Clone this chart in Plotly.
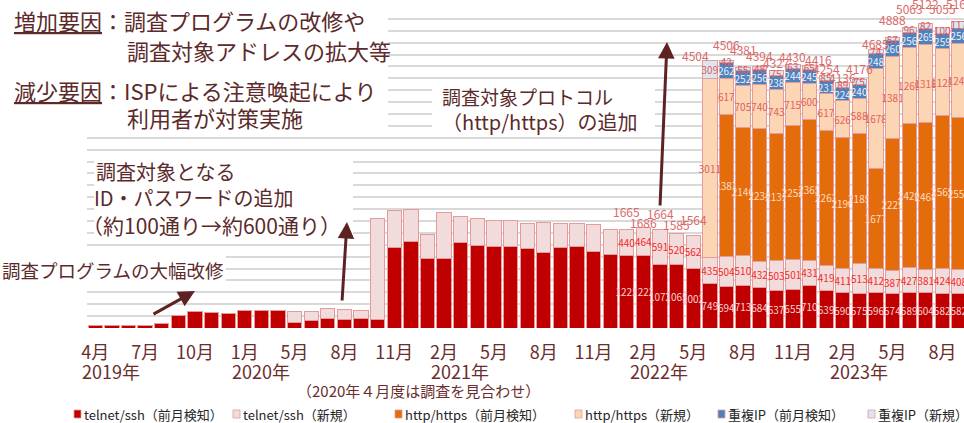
import plotly.graph_objects as go

# ---------------- data ----------------
months = [
    "2019-04", "2019-05", "2019-06", "2019-07", "2019-08", "2019-09", "2019-10", "2019-11", "2019-12",
    "2020-01", "2020-02", "2020-03", "2020-05", "2020-06", "2020-07", "2020-08", "2020-09", "2020-10",
    "2020-11", "2020-12",
    "2021-01", "2021-02", "2021-03", "2021-04", "2021-05", "2021-06", "2021-07", "2021-08", "2021-09",
    "2021-10", "2021-11", "2021-12",
    "2022-01", "2022-02", "2022-03", "2022-04", "2022-05", "2022-06", "2022-07", "2022-08", "2022-09",
    "2022-10", "2022-11", "2022-12",
    "2023-01", "2023-02", "2023-03", "2023-04", "2023-05", "2023-06", "2023-07", "2023-08", "2023-09",
]

telnet_prev = [40, 50, 50, 50, 75, 210, 272, 255, 248, 293, 293, 293,
               91, 119, 152, 135, 152, 140, 1360, 1450,
               1170, 1165, 1430, 1390, 1365, 1368, 1338, 1262, 1350, 1378, 1292, 1238,
               1225, 1222, 1073, 1065, 1002, 749, 694, 713, 684, 637, 655, 710,
               639, 590, 575, 596, 574, 589, 604, 582, 582]
telnet_new = [0, 0, 0, 0, 0, 0, 0, 0, 0, 0, 0, 0,
              186, 158, 182, 170, 148, 1700, 622, 545,
              398, 775, 440, 458, 438, 447, 422, 520, 416, 375, 441, 420,
              440, 464, 591, 520, 562, 435, 504, 510, 432, 503, 501, 431,
              419, 411, 513, 412, 387, 427, 381, 424, 408]
http_prev = [0] * 38 + [2387, 2146, 2234, 2131, 2252, 2365, 2263, 2196, 2185, 1677,
                        2229, 2426, 2468, 2565, 2555]
http_new = [0] * 37 + [3011, 617, 705, 740, 743, 715, 600, 617, 626, 588, 1678,
                       1381, 1269, 1318, 1125, 1245]
ip_prev = [0] * 38 + [262, 252, 256, 238, 244, 245, 231, 224, 240, 248, 260, 256, 269, 259, 256]
ip_new = [0] * 37 + [309, 42, 55, 48, 75, 63, 65, 85, 89, 75, 74, 57, 96, 82, 100, 117]

series_names = ["telnet/ssh（前月検知）", "telnet/ssh（新規）", "http/https（前月検知）",
                "http/https（新規）", "重複IP（前月検知）", "重複IP（新規）"]
series_values = [telnet_prev, telnet_new, http_prev, http_new, ip_prev, ip_new]

tick_months = months[::3]
tick_labels = ["4月", "7月", "10月", "1月", "5月", "8月", "11月", "2月", "5月", "8月",
               "11月", "2月", "5月", "8月", "11月", "2月", "5月", "8月"]
year_months = ["2019-04", "2020-01", "2021-02", "2022-02", "2023-02"]
year_labels = ["2019年", "2020年", "2021年", "2022年", "2023年"]

label_start = months.index("2022-01")   # values are printed from this month on

# ---------------- style ----------------
FONT = "Noto Sans CJK JP"
bar_colors = ["#C00000", "#F2DCDB", "#E46C0A", "#FCD5B5", "#4F81BD", "#DCE6F2"]
seg_text_colors = ["#F6D3D3", "#F52A2A", "#FDDCC2", "#E0625C", "#EAF1FA", "#DE5A5A"]
border_color = "#E39B9B"
text_color = "#5C2A2A"
axis_text_color = "#6B2D2D"
total_color = "#D96A6A"

# per-label vertical lift (px) and horizontal nudge of the totals (from label_start on)
total_dy = [18, 5, 16, 9, 16, 5, 16, 18, 11, 8, 8, 6, 7, 5, 11, 6, 18, 19, 20, 19, 18]
total_dx = [0, 0, 0, 0, 0, -14, 0, 0, 0, 0, 0, 9, 0, 0, 0, 0, 0, 0, 0, 0, 0]

PL, PR, PT, PB = 87, 964, 7, 328


def xp(px):
    return (px - PL) / (PR - PL)


def yp(py):
    return (PB - py) / (PB - PT)


fig = go.Figure()
for name, vals, col, tcol in zip(series_names, series_values, bar_colors, seg_text_colors):
    texts = [str(v) if (i >= label_start and v > 0) else "" for i, v in enumerate(vals)]
    fig.add_trace(go.Bar(
        x=months, y=vals, name=name,
        marker=dict(color=col, line=dict(color=border_color, width=1)),
        text=texts, textposition="inside", insidetextanchor="middle",
        textangle=0, constraintext="none",
        textfont=dict(family=FONT, size=10, color=tcol),
        hoverinfo="x+y+name",
    ))

totals = [sum(v) for v in zip(*series_values)]

annotations = []
for k, i in enumerate(range(label_start, len(months))):
    annotations.append(dict(
        x=months[i], y=totals[i], xref="x", yref="y", text=str(totals[i]),
        showarrow=False, yanchor="middle", xanchor="center",
        yshift=total_dy[k], xshift=total_dx[k],
        font=dict(family=FONT, size=12, color=total_color)))

# year labels under the month ticks
for m, lab in zip(year_months, year_labels):
    annotations.append(dict(
        x=m, y=yp(371), xref="x", yref="paper", text=lab, showarrow=False,
        xanchor="left", yanchor="middle", xshift=-15,
        font=dict(family=FONT, size=18, color=axis_text_color)))

annotations.append(dict(
    x=xp(418), y=yp(390), xref="paper", yref="paper",
    text="（2020年４月度は調査を見合わせ）", showarrow=False,
    xanchor="center", yanchor="middle",
    font=dict(family=FONT, size=15, color=axis_text_color)))

# explanatory texts
text_items = [
    ("<u>増加要因</u>：調査プログラムの改修や", 12, 20, 22, "left"),
    ("調査対象アドレスの拡大等", 125, 50, 22, "left"),
    ("<u>減少要因</u>：ISPによる注意喚起により", 12, 90, 22, "left"),
    ("利用者が対策実施", 125, 117, 22, "left"),
    ("調査対象となる", 94, 171, 20, "left"),
    ("ID・パスワードの追加", 92, 198, 20, "left"),
    ("（約100通り→約600通り）", 80, 225, 21, "left"),
    ("調査プログラムの大幅改修", 0, 270, 18.5, "left"),
    ("調査対象プロトコル", 440, 96, 19, "left"),
    ("（http/https）の追加", 440, 121, 20, "left"),
]
for txt, x0, yc, fs, anchor in text_items:
    annotations.append(dict(
        x=xp(x0), y=yp(yc), xref="paper", yref="paper", text=txt, showarrow=False,
        xanchor=anchor, yanchor="middle", align=anchor,
        font=dict(family=FONT, size=fs, color=text_color)))

# arrows: (tail_x, tail_y, tip_x, tip_y)
arrows = [(152, 315, 195, 291), (342, 302, 347, 222), (660, 207, 667, 42)]
for tx, ty, hx, hy in arrows:
    annotations.append(dict(
        x=xp(hx), y=yp(hy), xref="paper", yref="paper", text="",
        showarrow=True, ax=tx - hx, ay=ty - hy, axref="pixel", ayref="pixel",
        arrowhead=2, arrowsize=1.1, arrowwidth=3, arrowcolor="#5E2222", standoff=0))

# white panels behind the texts (hide gridlines)
shapes = []
for x0, y0, x1, y1 in [(0, 0, 388, 137), (94, 152, 353, 242), (0, 256, 226, 285), (432, 80, 655, 135)]:
    shapes.append(dict(type="rect", xref="paper", yref="paper",
                       x0=xp(x0), x1=xp(x1), y0=yp(y1), y1=yp(y0),
                       fillcolor="white", line=dict(width=0), layer="above"))

# custom legend
legend_x = [74, 233, 395, 575, 718, 868]
legend_y = 414
for name, col, lx in zip(series_names, bar_colors, legend_x):
    shapes.append(dict(type="rect", xref="paper", yref="paper",
                       x0=xp(lx), x1=xp(lx + 7), y0=yp(legend_y + 4), y1=yp(legend_y - 4),
                       fillcolor=col, line=dict(color=border_color, width=0.8), layer="above"))
    annotations.append(dict(
        x=xp(lx + 8), y=yp(legend_y), xref="paper", yref="paper", text=name,
        showarrow=False, xanchor="left", yanchor="middle",
        font=dict(family=FONT, size=13, color="#262626")))

fig.update_layout(
    width=964, height=423,
    margin=dict(l=PL, r=964 - PR, t=PT, b=423 - PB),
    plot_bgcolor="white", paper_bgcolor="white",
    barmode="stack", bargap=0.14, showlegend=False,
    uniformtext=dict(mode="show", minsize=10),
    font=dict(family=FONT),
    xaxis=dict(type="category", categoryorder="array", categoryarray=months,
               range=[-0.5, 52.3], tickmode="array", tickvals=tick_months, ticktext=tick_labels,
               tickfont=dict(family=FONT, size=18, color=axis_text_color),
               ticks="outside", ticklen=8, tickcolor="rgba(0,0,0,0)",
               showgrid=False, showline=False, zeroline=False),
    yaxis=dict(range=[0, 5400], tick0=0, dtick=200, showgrid=True, gridcolor="#D9D9D9",
               gridwidth=2, showticklabels=False, zeroline=False, showline=False),
    annotations=annotations,
    shapes=shapes,
)

fig.write_html("out.html", config={"displayModeBar": False},
               post_script="document.body.style.margin='0px';")
